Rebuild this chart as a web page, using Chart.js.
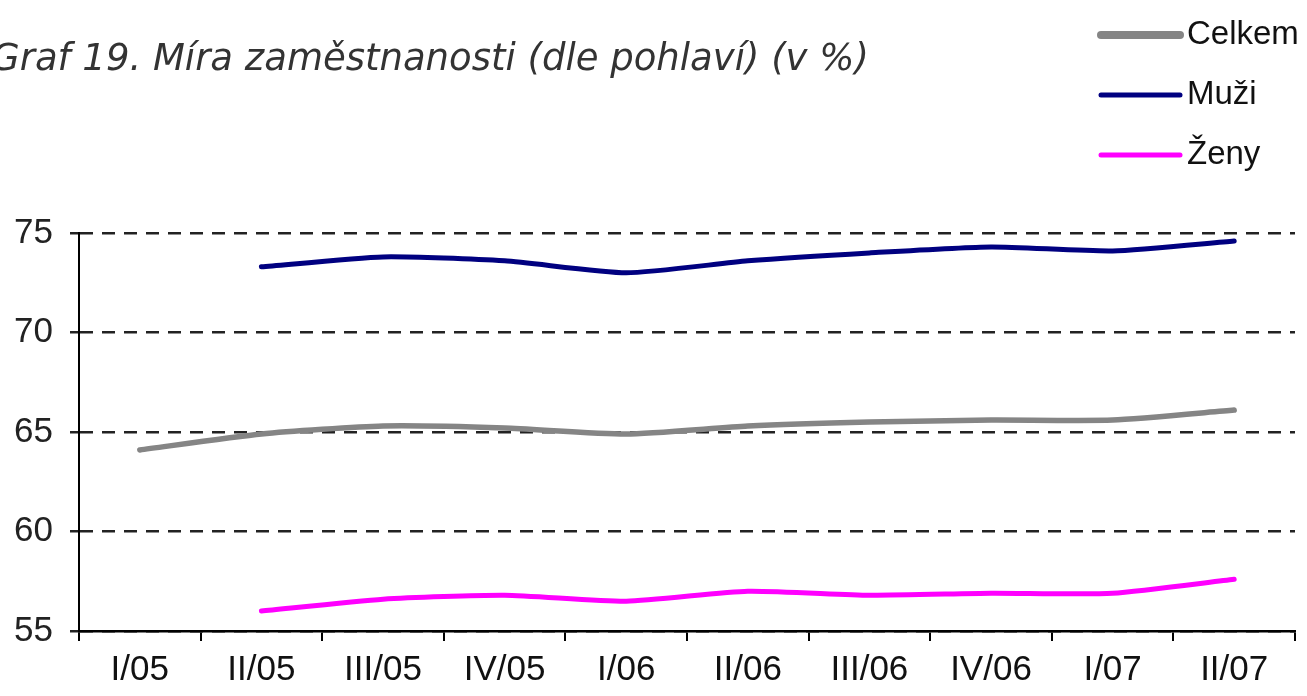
<!DOCTYPE html>
<html>
<head>
<meta charset="utf-8">
<script src="https://cdn.jsdelivr.net/npm/chart.js@4"></script>
<style>
    body { margin: 0; background: #fff; }
    #wrap { width: 1307px; height: 696px; }
</style>
</head>
<body>
<div id="wrap"><canvas id="chart" width="1307" height="696"></canvas></div>
<script>
const titleText = 'Graf 19. Míra zaměstnanosti (dle pohlaví) (v %)';
const quarters = ['I/05', 'II/05', 'III/05', 'IV/05', 'I/06', 'II/06', 'III/06', 'IV/06', 'I/07', 'II/07'];
const celkem = [64.1, 64.9, 65.3, 65.2, 64.9, 65.3, 65.5, 65.6, 65.6, 66.1];
const muzi = [null, 73.3, 73.8, 73.6, 73.0, 73.6, 74.0, 74.3, 74.1, 74.6];
const zeny = [null, 56.0, 56.6, 56.8, 56.5, 57.0, 56.8, 56.9, 56.9, 57.6];
const yTicks = [55, 60, 65, 70, 75];

// titulek a legenda kreslene primo do canvasu
const headerPlugin = {
    id: 'header',
    afterDraw(chart) {
        const ctx = chart.ctx;
        ctx.save();
        ctx.fillStyle = '#333';
        ctx.font = 'italic 37px "DejaVu Sans", Verdana, sans-serif';
        ctx.textBaseline = 'middle';
        ctx.textAlign = 'left';
        ctx.fillText(titleText, -9, 60);

        ctx.font = '33px "Liberation Sans", Arial, sans-serif';
        chart.data.datasets.forEach((ds, i) => {
            const y = 35 + i * 60;
            ctx.strokeStyle = ds.borderColor;
            ctx.lineWidth = ds.legendWidth;
            ctx.lineCap = 'round';
            ctx.beginPath();
            ctx.moveTo(1101, y);
            ctx.lineTo(1180, y);
            ctx.stroke();
            ctx.fillStyle = '#111';
            ctx.fillText(ds.label, 1187, y);
        });
        ctx.restore();
    }
};

new Chart(document.getElementById('chart'), {
    type: 'line',
    data: {
        labels: quarters,
        datasets: [
            { label: 'Celkem', data: celkem, borderColor: '#858585', borderWidth: 5.5, legendWidth: 8 },
            { label: 'Muži', data: muzi, borderColor: '#000080', borderWidth: 5, legendWidth: 5 },
            { label: 'Ženy', data: zeny, borderColor: '#ff00ff', borderWidth: 5, legendWidth: 5 }
        ]
    },
    options: {
        responsive: false,
        animation: false,
        devicePixelRatio: 1,
        layout: { padding: { top: 233, right: 12, left: 0, bottom: 0 } },
        elements: {
            point: { radius: 0, hoverRadius: 0 },
            line: { tension: 0.2, borderCapStyle: 'round', borderJoinStyle: 'round', fill: false }
        },
        plugins: {
            legend: { display: false },
            title: { display: false },
            tooltip: { enabled: false }
        },
        scales: {
            x: {
                offset: true,
                grid: {
                    offset: true,
                    drawOnChartArea: false,
                    drawTicks: true,
                    tickLength: 10,
                    color: '#000',
                    lineWidth: 2
                },
                border: { display: true, color: '#000', width: 2.5 },
                ticks: {
                    color: '#111',
                    padding: 8,
                    maxRotation: 0,
                    autoSkip: false,
                    font: { family: '"Liberation Sans Narrow", "Liberation Sans", Arial, sans-serif', size: 35 }
                },
                afterFit(scale) { scale.height = 65; }
            },
            y: {
                min: 55,
                max: 75,
                afterBuildTicks(scale) { scale.ticks = yTicks.map(v => ({ value: v })); },
                grid: {
                    color: '#222',
                    lineWidth: 2.5,
                    tickLength: 9
                },
                border: { display: true, color: '#000', width: 2, dash: [13, 9] },
                ticks: {
                    color: '#222',
                    padding: 17,
                    font: { family: '"Liberation Sans", Arial, sans-serif', size: 35 }
                },
                afterFit(scale) { scale.width = 79; }
            }
        }
    },
    plugins: [headerPlugin]
});
</script>
</body>
</html>
